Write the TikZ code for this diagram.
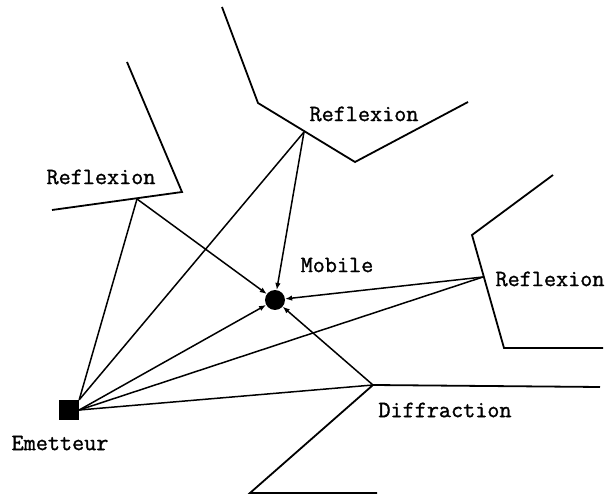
\documentclass[tikz,border=0pt]{standalone}
\usepackage{fontspec}
\newfontfamily\lblfont[FakeBold=1.2]{Latin Modern Mono}
\usetikzlibrary{arrows.meta}
\begin{document}
\begin{tikzpicture}[x=1pt,y=-1pt,
  wall/.style={line width=1.8pt,line join=miter},
  ray/.style={line width=1.5pt},
  arr/.style={ray,-{Latex[length=7pt,width=5.5pt]}},
  lbl/.style={font=\lblfont\fontsize{23.5}{25}\selectfont,inner sep=0pt},
]
\useasboundingbox (0,0) rectangle (606,497);
% walls
\draw[wall] (127,62) -- (182,192) -- (52,210);
\draw[wall] (222,7) -- (258,103) -- (355,162) -- (468,102);
\draw[wall] (553,175) -- (472,235) -- (504,348) -- (603,348);
\draw[wall] (600,387) -- (373,385) -- (250,493) -- (377,493);
% interaction points
\coordinate (r1) at (137,199);
\coordinate (r2) at (304,132);
\coordinate (r3) at (483,277);
\coordinate (dif) at (373,385);
% nodes
\node[fill=black,minimum size=20pt,inner sep=0pt] (em) at (69,410) {};
\node[circle,fill=black,minimum size=20pt,inner sep=0pt] (mob) at (275,300) {};
\node[lbl] (lem) at (60,443) {Emetteur};
\node[lbl] (lmob) at (337,265) {Mobile};
\node[lbl] (l1) at (101,177) {Reflexion};
\node[lbl] (l2) at (364,114) {Reflexion};
\node[lbl] (l3) at (550,279) {Reflexion};
\node[lbl] (ld) at (445,410) {Diffraction};
% rays
\draw[ray] (em.north east) -- (r1);
\draw[arr] (r1) -- (mob);
\draw[ray] (em.north east) -- (r2);
\draw[arr] (r2) -- (mob);
\draw[arr] (em.east) -- (mob);
\draw[ray] (em.east) -- (r3);
\draw[arr] (r3) -- (mob);
\draw[ray] (em.east) -- (dif);
\draw[arr] (dif) -- (mob);
\end{tikzpicture}
\end{document}
